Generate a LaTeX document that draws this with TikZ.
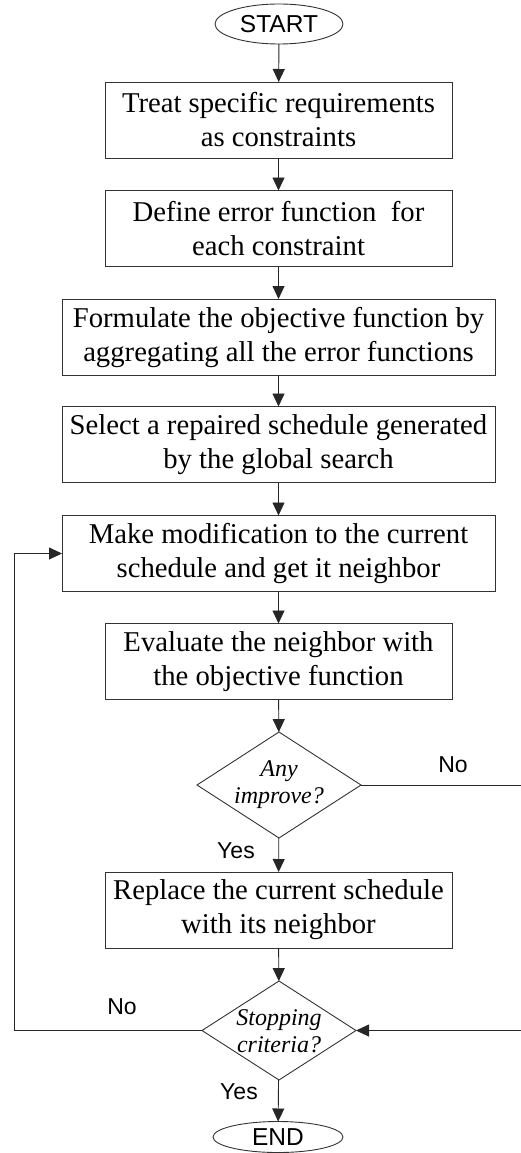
\documentclass[tikz,border=0pt]{standalone}
\usepackage{fontspec}
\setmainfont{Liberation Serif}
\newfontfamily\arialfont{Liberation Sans}
\usetikzlibrary{shapes.geometric,arrows.meta}
\begin{document}
\begin{tikzpicture}[x=1pt,y=-1pt,
  every node/.style={inner sep=0pt,outer sep=0pt},
  procbox/.style={draw=black!80,line width=0.9pt,rectangle,align=center,
    font=\fontsize{28.7}{34}\selectfont},
  narrowbox/.style={procbox,minimum width=347pt,minimum height=76pt},
  widebox/.style={procbox,minimum width=433pt,minimum height=76pt},
  terminal/.style={draw=black!80,line width=0.9pt,ellipse,minimum width=128pt,minimum height=40pt,
    font=\arialfont\fontsize{24.5}{27}\selectfont},
  decision/.style={draw=black!80,line width=0.9pt,diamond,minimum width=164pt,minimum height=106pt},
  dtext/.style={align=center,font=\itshape\fontsize{24}{27}\selectfont},
  lbl/.style={font=\arialfont\fontsize{23}{27}\selectfont},
  conn/.style={line width=0.9pt,draw=black!85},
  arr/.style={conn,-{Triangle[length=13pt,width=12pt]}}]
\useasboundingbox (0,0) rectangle (520,1153);

\node[terminal] (start) at (279,24) {START};
\node[narrowbox] (b1) at (278.5,120) {Treat specific requirements\\as constraints};
\node[narrowbox] (b2) at (278.5,228.5) {Define error function\ \ for\\each constraint};
\node[widebox] (b3) at (278.5,337) {Formulate the objective function by\\aggregating all the error functions};
\node[widebox] (b4) at (278.5,444.5) {Select a repaired schedule generated\\by the global search};
\node[widebox] (b5) at (278.5,553.5) {Make modification to the current\\schedule and get it neighbor};
\node[narrowbox] (b6) at (278.5,661.5) {Evaluate the neighbor with\\the objective function};
\node[decision] (d1) at (279,785) {};
\node[dtext] (d1t) at (279,785) {Any\\improve?};
\node[narrowbox] (b7) at (278.5,910) {Replace the current schedule\\with its neighbor};
\node[decision, minimum width=154pt, minimum height=99pt] (d2) at (279,1030.5) {};
\node[dtext] (d2t) at (279,1031) {Stopping\\criteria?};
\node[terminal, minimum width=130pt, minimum height=31pt] (end) at (278,1137) {END};

\coordinate (rtop) at (522,785);
\coordinate (rbot) at (522,1030.5);
\coordinate (lbot) at (14,1030.5);
\coordinate (ltop) at (14,553.5);

\draw[arr] (start) -- (b1);
\draw[arr] (b1) -- (b2);
\draw[arr] (b2) -- (b3);
\draw[arr] (b3) -- (b4);
\draw[arr] (b4) -- (b5);
\draw[arr] (b5) -- (b6);
\draw[arr] (b6) -- (d1);
\draw[arr] (d1) -- (b7);
\draw[arr] (b7) -- (d2);
\draw[arr] (d2) -- (end);
\draw[conn] (d1.east) -- (rtop) -- (rbot);
\draw[arr] (rbot) -- (d2.east);
\draw[arr] (d2.west) -- (lbot) -- (ltop) -- (b5.west);

\node[lbl] (no1) at (453,765) {No};
\node[lbl] (yes1) at (236,851) {Yes};
\node[lbl] (no2) at (122,1007) {No};
\node[lbl] (yes2) at (239,1092) {Yes};
\end{tikzpicture}
\end{document}
